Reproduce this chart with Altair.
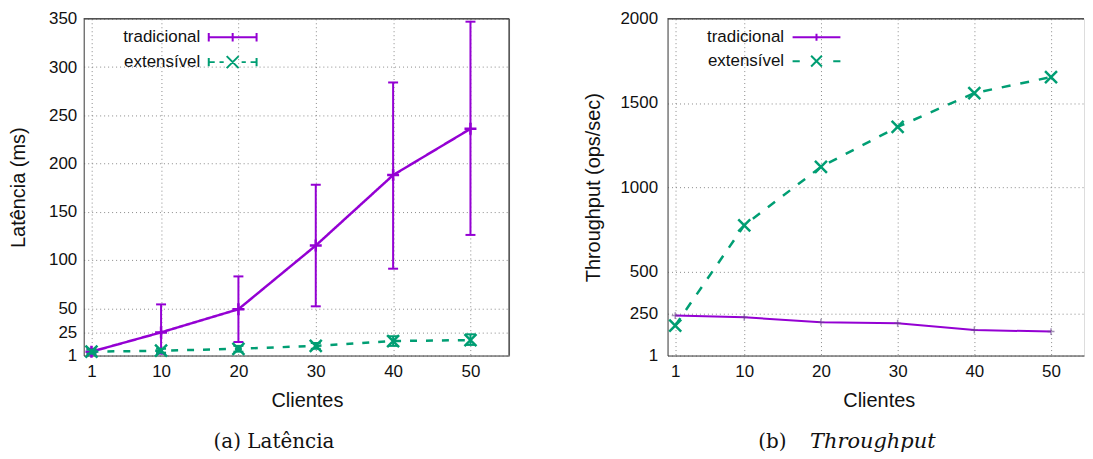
import altair as alt
import pandas as pd

# ---------------- data ----------------
clients = [1, 10, 20, 30, 40, 50]
series = ["tradicional", "extensível"]

lat_trad = [5, 25, 49, 115, 188, 236]
lat_trad_lo = [2, 3, 15, 52, 91, 126]
lat_trad_hi = [8, 54, 83, 178, 284, 347]
lat_ext = [5, 6, 8, 11, 16, 17]
lat_ext_lo = [3, 4, 5, 8, 11, 12]
lat_ext_hi = [7, 8, 11, 14, 21, 23]

thr_trad = [238, 228, 198, 192, 153, 143]
thr_ext = [179, 774, 1121, 1358, 1559, 1654]

x_ticks = [1, 10, 20, 30, 40, 50]
lat_ticks = [1, 25, 50, 100, 150, 200, 250, 300, 350]
thr_ticks = [1, 250, 500, 1000, 1500, 2000]

captions = ["(a) Latência", "(b)", "Throughput"]

# ---------------- styles ----------------
PURPLE = "#9400D3"
GREEN = "#009E73"
BORDER = "#444444"
SANS = "Liberation Sans"
SERIF = "DejaVu Serif"

PLUS = "M-1,0H1M0,-1V1"
CROSS = "M-1,-1L1,1M-1,1L1,-1"

LEG_L_TRAD = "M-4,0H4M-4,-0.7V0.7M4,-0.7V0.7M0,-0.7V0.7"
LEG_L_EXT = ("M-4,-0.7V0.7M-4,0H-3M-2.2,0H-1.5M-1,-1L1,1M-1,1L1,-1"
             "M1.5,0H2.2M3,0H4M4,-0.7V0.7")
LEG_R_TRAD = "M-4,0H4M0,-0.6V0.6"
LEG_R_EXT = "M-4,0H-2.8M-0.9,-0.9L0.9,0.9M-0.9,0.9L0.9,-0.9M2.8,0H4"

lat_trad_df = pd.DataFrame({"c": clients, "v": lat_trad, "lo": lat_trad_lo, "hi": lat_trad_hi})
lat_ext_df = pd.DataFrame({"c": clients, "v": lat_ext, "lo": lat_ext_lo, "hi": lat_ext_hi})
thr_trad_df = pd.DataFrame({"c": clients, "v": thr_trad})
thr_ext_df = pd.DataFrame({"c": clients, "v": thr_ext})
legend_df = pd.DataFrame({"s": series})


def x_enc(xmax, title_x):
    return alt.X(
        "c:Q",
        scale=alt.Scale(domain=[0, xmax], nice=False, zero=False),
        axis=alt.Axis(
            values=x_ticks, title="Clientes", titleX=title_x, format="d",
            labelFont=SANS, labelFontSize=17, labelColor="#111",
            titleFont=SANS, titleFontSize=20, titleFontWeight="normal", titleColor="#111",
            labelPadding=8, titlePadding=11, ticks=False, labelFlush=False,
            domainColor=BORDER, grid=True, gridColor="#8a8a8a", gridDash=[1, 3],
        ),
    )


def y_enc(field, ymax, ticks, title, title_pad, label_pad):
    return alt.Y(
        field + ":Q",
        scale=alt.Scale(domain=[1, ymax], nice=False, zero=False),
        axis=alt.Axis(
            values=ticks, title=title, format="d",
            labelFont=SANS, labelFontSize=17, labelColor="#111", labelOverlap=False,
            titleFont=SANS, titleFontSize=20, titleFontWeight="normal", titleColor="#111",
            labelPadding=label_pad, titlePadding=title_pad, ticks=False, labelFlush=False,
            domainColor=BORDER, grid=True, gridColor="#8a8a8a", gridDash=[1, 3],
        ),
    )


def legend_layer(shapes):
    leg = alt.Legend(
        orient="none", legendX=41, legendY=10, title=None,
        labelAlign="right", labelOffset={"expr": "-41"}, symbolOffset=100,
        labelFont=SANS, labelFontSize=17, labelColor="#111",
        symbolSize=144, symbolStrokeWidth=2, rowPadding=6,
    )
    return alt.Chart(legend_df).transform_filter("false").mark_point(
        filled=False, strokeWidth=2, opacity=1
    ).encode(
        color=alt.Color("s:N", scale=alt.Scale(domain=series, range=[PURPLE, GREEN]), legend=leg),
        shape=alt.Shape("s:N", scale=alt.Scale(domain=series, range=shapes), legend=leg),
    )


# ---------------- left: latency ----------------
LX = x_enc(55, 224)
LY = lambda f: y_enc(f, 350, lat_ticks, "Latência (ms)", 20, 7)

left_layers = []
for df, col, dash, sw in [(lat_trad_df, PURPLE, [1, 0], 2.5), (lat_ext_df, GREEN, [7, 9], 2.5)]:
    base = alt.Chart(df)
    left_layers.append(base.mark_rule(color=col, strokeWidth=2).encode(x=LX, y=LY("lo"), y2="hi"))
    left_layers.append(base.mark_point(shape="stroke", size=100, filled=False, color=col,
                                       strokeWidth=2, opacity=1).encode(x=LX, y=LY("lo")))
    left_layers.append(base.mark_point(shape="stroke", size=100, filled=False, color=col,
                                       strokeWidth=2, opacity=1).encode(x=LX, y=LY("hi")))
    left_layers.append(base.mark_line(color=col, strokeWidth=sw, strokeDash=dash).encode(x=LX, y=LY("v")))
    left_layers.append(base.mark_point(shape=PLUS if col == PURPLE else CROSS, size=144,
                                       filled=False, color=col, strokeWidth=2.5,
                                       opacity=1).encode(x=LX, y=LY("v")))

left_border = [
    alt.Chart(legend_df).mark_rule(color=BORDER, strokeWidth=1).encode(y=alt.datum(350)),
    alt.Chart(legend_df).mark_rule(color=BORDER, strokeWidth=1).encode(x=alt.datum(55)),
]
left_caption = alt.Chart(pd.DataFrame({"t": [captions[0]]})).mark_text(
    font=SERIF, fontSize=20, align="center", baseline="middle", color="#111"
).encode(text="t:N", x=alt.value(191), y=alt.value(425))

left = alt.layer(*left_layers, *left_border, legend_layer([LEG_L_TRAD, LEG_L_EXT]),
                 left_caption).properties(width=427, height=338)

# ---------------- right: throughput ----------------
RX = x_enc(54.3, 212)
RY = lambda f: y_enc(f, 2000, thr_ticks, "Throughput (ops/sec)", 16, 10)

r_trad = alt.Chart(thr_trad_df)
r_ext = alt.Chart(thr_ext_df)
right_layers = [
    r_ext.mark_line(color=GREEN, strokeWidth=2.5, strokeDash=[9, 10]).encode(x=RX, y=RY("v")),
    r_ext.mark_point(shape=CROSS, size=144, filled=False, color=GREEN, strokeWidth=2.5,
                     opacity=1).encode(x=RX, y=RY("v")),
    r_trad.mark_line(color=PURPLE, strokeWidth=2).encode(x=RX, y=RY("v")),
    r_trad.mark_point(shape=PLUS, size=49, filled=False, color="#6a4a8a", strokeWidth=1.5,
                      opacity=0.6).encode(x=RX, y=RY("v")),
]
right_border = [
    alt.Chart(legend_df).mark_rule(color=BORDER, strokeWidth=1).encode(y=alt.datum(2000)),
]
right_caption = [
    alt.Chart(pd.DataFrame({"t": [captions[1]]})).mark_text(
        font=SERIF, fontSize=20, align="left", baseline="middle", color="#111"
    ).encode(text="t:N", x=alt.value(91), y=alt.value(425)),
    alt.Chart(pd.DataFrame({"t": [captions[2]]})).mark_text(
        font=SERIF, fontSize=21, fontStyle="italic", align="left", baseline="middle", color="#111"
    ).encode(text="t:N", x=alt.value(143), y=alt.value(425)),
]
right = alt.layer(*right_layers, *right_border, legend_layer([LEG_R_TRAD, LEG_R_EXT]),
                  *right_caption).properties(width=418, height=338)

chart = alt.hconcat(left, right, spacing=73).resolve_scale(
    color="independent", shape="independent"
).resolve_legend(
    color="independent", shape="independent"
).properties(
    padding={"left": 0, "top": 0, "right": 0, "bottom": 0}
).configure_view(stroke=None).configure(background="white")

chart.save("out.html", embed_options={"renderer": "svg", "actions": False})
